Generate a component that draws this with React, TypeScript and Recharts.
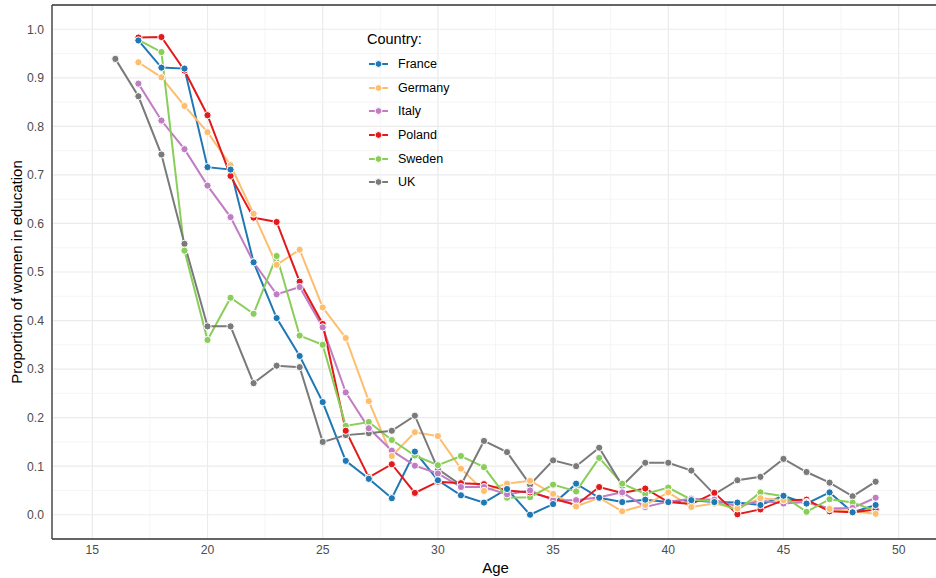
import React from 'react';
import { LineChart, Line, XAxis, YAxis, CartesianGrid, ReferenceLine, Legend } from 'recharts';

const ages = [16, 17, 18, 19, 20, 21, 22, 23, 24, 25, 26, 27, 28, 29, 30, 31, 32, 33, 34, 35, 36, 37, 38, 39, 40, 41, 42, 43, 44, 45, 46, 47, 48, 49];

const countries = ['France', 'Germany', 'Italy', 'Poland', 'Sweden', 'UK'];
const colors = ['#1f78b4', '#fdbf6f', '#c17dc4', '#e31a1c', '#8ace5a', '#7a7a7a'];

const france = [null, 0.977, 0.921, 0.919, 0.716, 0.711, 0.520, 0.405, 0.327, 0.232, 0.111, 0.074, 0.034, 0.130, 0.071, 0.040, 0.025, 0.053, 0.000, 0.022, 0.064, 0.035, 0.026, 0.031, 0.026, 0.030, 0.026, 0.025, 0.020, 0.039, 0.023, 0.046, 0.005, 0.020];
const germany = [null, 0.932, 0.901, 0.842, 0.788, 0.720, 0.620, 0.515, 0.546, 0.427, 0.364, 0.234, 0.121, 0.170, 0.162, 0.095, 0.049, 0.064, 0.070, 0.043, 0.017, 0.035, 0.007, 0.020, 0.046, 0.016, 0.023, 0.013, 0.034, 0.030, 0.025, 0.012, 0.007, 0.002];
const italy = [null, 0.888, 0.812, 0.753, 0.678, 0.613, 0.520, 0.454, 0.469, 0.386, 0.252, 0.178, 0.132, 0.101, 0.085, 0.057, 0.057, 0.042, 0.050, 0.030, 0.030, 0.036, 0.046, 0.016, 0.027, 0.033, 0.031, 0.017, 0.029, 0.023, 0.026, 0.013, 0.014, 0.035];
const poland = [null, 0.983, 0.984, 0.915, 0.823, 0.698, 0.612, 0.603, 0.480, 0.393, 0.173, 0.077, 0.104, 0.045, 0.068, 0.065, 0.063, 0.050, 0.046, 0.033, 0.020, 0.057, 0.045, 0.054, 0.026, 0.022, 0.045, 0.001, 0.011, 0.030, 0.031, 0.007, 0.005, 0.011];
const sweden = [null, 0.978, 0.953, 0.544, 0.360, 0.447, 0.414, 0.533, 0.369, 0.350, 0.183, 0.191, 0.154, 0.122, 0.102, 0.121, 0.098, 0.035, 0.036, 0.062, 0.048, 0.117, 0.064, 0.043, 0.056, 0.031, 0.028, 0.009, 0.046, 0.038, 0.006, 0.032, 0.025, 0.008];
const uk = [0.939, 0.862, 0.742, 0.558, 0.388, 0.388, 0.271, 0.307, 0.304, 0.150, 0.164, 0.168, 0.173, 0.204, 0.094, 0.061, 0.152, 0.129, 0.062, 0.112, 0.100, 0.138, 0.060, 0.107, 0.107, 0.091, 0.042, 0.071, 0.078, 0.115, 0.088, 0.066, 0.038, 0.068];

const seriesValues = [france, germany, italy, poland, sweden, uk];

const xTicks = [15, 20, 25, 30, 35, 40, 45, 50];
const yTicks = [0, 0.1, 0.2, 0.3, 0.4, 0.5, 0.6, 0.7, 0.8, 0.9, 1.0];
const xMinor = [17.5, 22.5, 27.5, 32.5, 37.5, 42.5, 47.5];
const yMinor = [0.05, 0.15, 0.25, 0.35, 0.45, 0.55, 0.65, 0.75, 0.85, 0.95];

const legendTitle = 'Country:';
const xTitle = 'Age';
const yTitle = 'Proportion of women in education';

const rows = ages.map((age, i) => {
  const r: Record<string, number | null> = { age };
  countries.forEach((c, k) => {
    r[c] = seriesValues[k][i];
  });
  return r;
});

const dotOrder = [5, 4, 3, 2, 1, 0];

const FONT = '"Liberation Sans", Arial, Helvetica, sans-serif';

const LegendBox = () => (
  <div style={{ fontFamily: FONT, color: '#000', textAlign: 'left' }}>
    <div style={{ fontSize: 14.5, lineHeight: '17px', height: 21.5 }}>{legendTitle}</div>
    {countries.map((c, k) => (
      <div key={c} style={{ display: 'flex', alignItems: 'center', height: 23.6 }}>
        <svg width={22} height={10} style={{ display: 'block' }}>
          <line x1={2} y1={5} x2={21} y2={5} stroke={colors[k]} strokeWidth={2} />
          <circle cx={11.5} cy={5} r={3.4} fill={colors[k]} stroke="#fff" strokeWidth={1} />
        </svg>
        <span style={{ marginLeft: 9, fontSize: 12.5 }}>{c}</span>
      </div>
    ))}
  </div>
);

const YLabel = (props: any) => {
  const vb = props.viewBox || {};
  const cx = 16;
  const cy = vb.y + vb.height / 2;
  return (
    <text x={cx} y={cy} transform={`rotate(-90, ${cx}, ${cy})`} textAnchor="middle" dominantBaseline="central" fontFamily={FONT} fontSize={15} fill="#000">
      {yTitle}
    </text>
  );
};

const XLabel = (props: any) => {
  const vb = props.viewBox || {};
  const cx = vb.x + vb.width / 2;
  return (
    <text x={cx} y={567} textAnchor="middle" dominantBaseline="central" fontFamily={FONT} fontSize={15} fill="#000">
      {xTitle}
    </text>
  );
};

export default function App() {
  return (
    <div style={{ position: 'absolute', left: 0, top: 0, width: 936, height: 578, overflow: 'hidden', background: '#fff' }}>
      <LineChart width={950} height={578} data={rows} margin={{ top: 5, right: 11, bottom: 0, left: 0 }}>
        <CartesianGrid stroke="#ebebeb" strokeWidth={1.2} />
        {xMinor.map((v) => (
          <ReferenceLine key={'xm' + v} x={v} stroke="#f2f2f2" strokeWidth={0.8} />
        ))}
        {yMinor.map((v) => (
          <ReferenceLine key={'ym' + v} y={v} stroke="#f2f2f2" strokeWidth={0.8} />
        ))}
        <XAxis
          dataKey="age"
          type="number"
          domain={[13.25, 51.75]}
          ticks={xTicks}
          allowDataOverflow
          height={39}
          tickSize={0}
          tickMargin={6}
          tickLine={false}
          axisLine={{ stroke: '#333', strokeWidth: 1.3 }}
          tick={{ fill: '#4d4d4d', fontSize: 12.2, fontFamily: FONT }}
          label={<XLabel />}
        />
        <YAxis
          type="number"
          domain={[-0.05, 1.05]}
          ticks={yTicks}
          allowDataOverflow
          width={52}
          tickSize={0}
          tickMargin={8}
          tickLine={false}
          axisLine={{ stroke: '#333', strokeWidth: 1.3 }}
          tick={{ fill: '#4d4d4d', fontSize: 12.2, fontFamily: FONT }}
          tickFormatter={(v: number) => v.toFixed(1)}
          label={<YLabel />}
        />
        <ReferenceLine y={1.05} stroke="#333" strokeWidth={1.3} />
        <ReferenceLine x={51.75} stroke="#333" strokeWidth={1.3} />
        {countries.map((c, k) => (
          <Line
            key={'l' + c}
            dataKey={c}
            stroke={colors[k]}
            strokeWidth={2}
            dot={false}
            activeDot={false}
            isAnimationActive={false}
            legendType="none"
          />
        ))}
        {dotOrder.map((k) => (
          <Line
            key={'p' + countries[k]}
            dataKey={countries[k]}
            stroke="none"
            dot={{ r: 3.6, fill: colors[k], stroke: '#fff', strokeWidth: 1 }}
            activeDot={false}
            isAnimationActive={false}
            legendType="none"
          />
        ))}
        <Legend
          layout="horizontal"
          verticalAlign="middle"
          align="center"
          content={() => <LegendBox />}
          wrapperStyle={{ left: 367, top: 31, width: 'auto', height: 'auto' }}
        />
      </LineChart>
    </div>
  );
}
